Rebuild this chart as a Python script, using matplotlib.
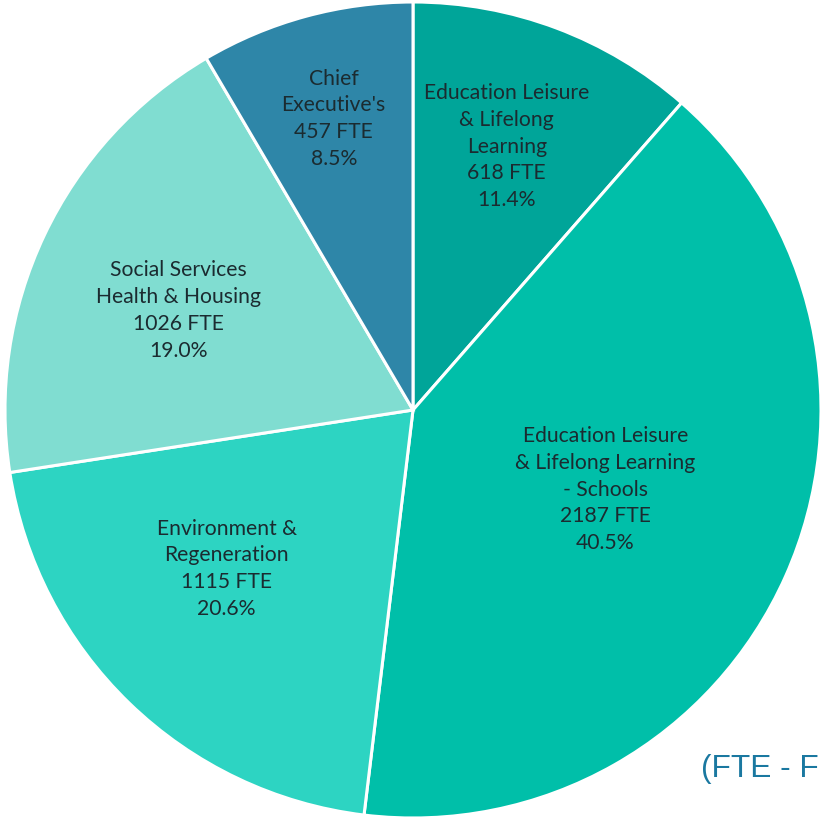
import matplotlib.pyplot as plt
import numpy as np

departments = ['Education Leisure\n& Lifelong\nLearning',
               'Education Leisure\n& Lifelong Learning\n- Schools',
               'Environment &\nRegeneration',
               'Social Services\nHealth & Housing',
               "Chief\nExecutive's"]
fte = [618, 2187, 1115, 1026, 457]
pct = ['11.4%', '40.5%', '20.6%', '19.0%', '8.5%']
colors = ['#00a599', '#00bfa9', '#2dd4c2', '#80ddd1', '#2e86a8']
label_r = [0.685, 0.51, 0.60, 0.625, 0.74]
label_shift = [1, 1.5, -5.5, 2.4, 0]  # degrees, small nudges

fig = plt.figure(figsize=(8.21, 8.18), dpi=100)
ax = fig.add_axes([5 / 821, 0, 816 / 821, 816 / 818])

wedges, _ = ax.pie(fte, colors=colors, startangle=90, counterclock=False,
                   wedgeprops=dict(edgecolor='white', linewidth=2.2))
ax.set_xlim(-1, 1)
ax.set_ylim(-1, 1)

for w, name, n, p, r, s in zip(wedges, departments, fte, pct, label_r, label_shift):
    ang = np.deg2rad((w.theta1 + w.theta2) / 2 + s)
    ax.text(r * np.cos(ang), r * np.sin(ang), f'{name}\n{n} FTE\n{p}',
            ha='center', va='center', fontsize=15.2, family='Lato',
            color='#1b2b30', linespacing=1.42)

# the note is cut off at the right edge in the original
fig.text(701 / 821, 1 - 777 / 818, '(FTE - F', fontsize=22.8,
         family='Liberation Sans', color='#1a78a0', ha='left', va='baseline')

fig.savefig('out.png', dpi=100)
